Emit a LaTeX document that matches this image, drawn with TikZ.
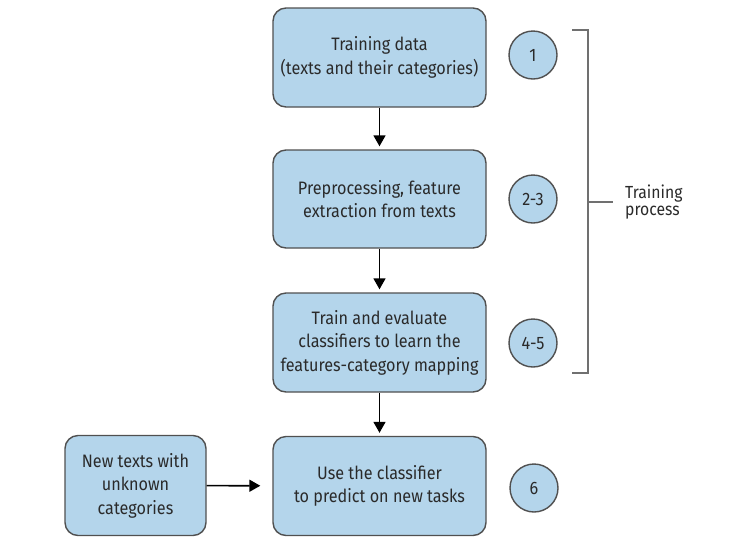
\documentclass[tikz,border=0pt]{standalone}
\usepackage{fontspec}
\setmainfont[FakeStretch=0.9]{Fira Sans}
\usetikzlibrary{arrows.meta}
\definecolor{boxfill}{HTML}{B4D5EB}
\definecolor{boxline}{HTML}{505050}
\definecolor{brk}{HTML}{707070}
\definecolor{txt}{HTML}{2A2A2A}
\tikzset{
  stepbox/.style={draw=boxline, fill=boxfill, line width=1.4pt, rounded corners=13pt,
    align=center, inner sep=0pt, font=\fontsize{18}{23.5}\selectfont, text=txt},
  numcirc/.style={draw=boxline, fill=boxfill, line width=1.4pt, circle, minimum size=48pt,
    inner sep=0pt, font=\fontsize{18}{18}\selectfont, text=txt},
  flow/.style={-{Triangle[length=11pt,width=12pt]}, line width=1.6pt, black},
}
\begin{document}
\begin{tikzpicture}[x=1pt,y=-1pt]
\useasboundingbox (0,0) rectangle (737,542);
\node[stepbox, minimum width=213pt, minimum height=99pt] (b1) at (379.5,57.5) {Training data\\(texts and their categories)};
\node[stepbox, minimum width=213pt, minimum height=98pt] (b2) at (379.5,199) {Preprocessing, feature\\extraction from texts};
\node[stepbox, minimum width=213pt, minimum height=99pt] (b3) at (379.5,342.5) {Train and evaluate\\classifiers to learn the\\features-category mapping};
\node[stepbox, minimum width=213pt, minimum height=99pt] (b4) at (379.5,486) {Use the classifier\\to predict on new tasks};
\node[stepbox, minimum width=141pt, minimum height=100pt] (b0) at (135.5,485.5) {New texts with\\unknown\\categories};
\node[numcirc] (c1) at (533,55) {1};
\node[numcirc] (c2) at (533,199) {2-3};
\node[numcirc] (c3) at (533,343) {4-5};
\node[numcirc] (c4) at (534,488) {6};
\draw[flow, shorten >=3pt] (b1) -- (b2);
\draw[flow, shorten >=3pt] (b2) -- (b3);
\draw[flow, shorten >=3pt] (b3) -- (b4);
\draw[flow, shorten >=12pt] (b0) -- (b4);
\coordinate (t1) at (572,30);
\coordinate (t2) at (572,373);
\coordinate (tm) at (588,202);
\coordinate (te) at (613,202);
\draw[brk, line width=1.4pt] (t1) -- (588,30) -- (588,373) -- (t2);
\draw[brk, line width=1.4pt] (tm) -- (te);
\node[anchor=west, align=left, inner sep=0pt, font=\fontsize{17.5}{17}\selectfont, text=txt] (lbl) at (625,202) {Training\\process};
\end{tikzpicture}
\end{document}
